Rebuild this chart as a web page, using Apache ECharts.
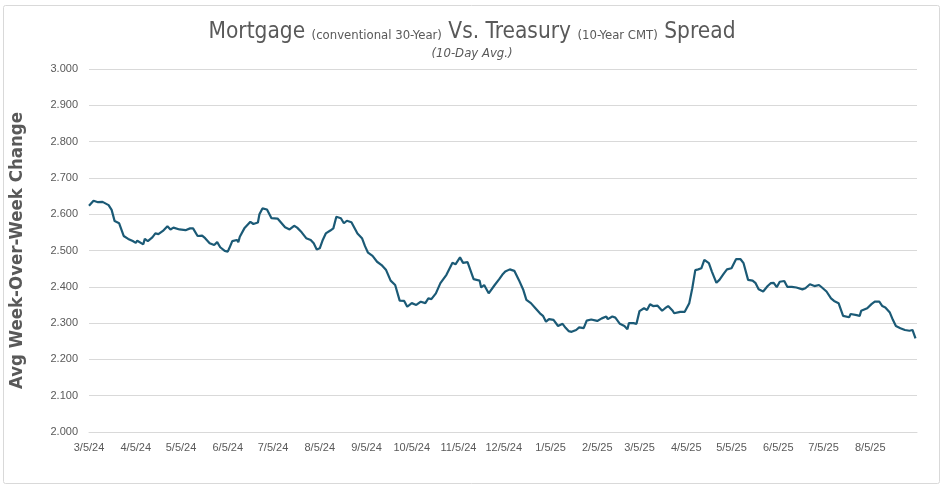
<!DOCTYPE html>
<html>
<head>
<meta charset="utf-8">
<title>Mortgage vs Treasury Spread</title>
<script src="https://cdn.jsdelivr.net/npm/echarts@6/dist/echarts.min.js"></script>
<style>
  html, body { margin: 0; padding: 0; background: #fff; }
  #chart { width: 944px; height: 489px; }
</style>
</head>
<body>
<div id="chart"></div>
<script>
// axis range (Excel date axis, one label per month on the 5th)
const axisStart = '2024-03-05';
const axisEnd = '2025-09-05';

// 10-day average spread
const dates = [
  '2024-03-05','2024-03-06','2024-03-08','2024-03-11','2024-03-14','2024-03-15','2024-03-18','2024-03-20','2024-03-22','2024-03-25','2024-03-28','2024-03-31',
  '2024-04-03','2024-04-05','2024-04-06','2024-04-10','2024-04-11','2024-04-13','2024-04-16','2024-04-18','2024-04-20','2024-04-23','2024-04-26','2024-04-28','2024-04-30',
  '2024-05-04','2024-05-08','2024-05-09','2024-05-11','2024-05-13','2024-05-16','2024-05-19','2024-05-21','2024-05-24','2024-05-27','2024-05-28','2024-05-29','2024-05-31',
  '2024-06-03','2024-06-05','2024-06-06','2024-06-08','2024-06-11','2024-06-12','2024-06-13','2024-06-16','2024-06-20','2024-06-22','2024-06-25','2024-06-26','2024-06-28',
  '2024-07-01','2024-07-04','2024-07-08','2024-07-13','2024-07-16','2024-07-19','2024-07-21','2024-07-24','2024-07-27','2024-07-30',
  '2024-08-01','2024-08-03','2024-08-05','2024-08-07','2024-08-09','2024-08-12','2024-08-14','2024-08-16','2024-08-19','2024-08-21','2024-08-23','2024-08-26','2024-08-30',
  '2024-09-02','2024-09-04','2024-09-06','2024-09-09','2024-09-12','2024-09-15','2024-09-18','2024-09-21','2024-09-24','2024-09-27','2024-09-30',
  '2024-10-02','2024-10-05','2024-10-08','2024-10-11','2024-10-14','2024-10-16','2024-10-18','2024-10-21','2024-10-24','2024-10-28',
  '2024-11-01','2024-11-03','2024-11-06','2024-11-08','2024-11-11','2024-11-15','2024-11-19','2024-11-20','2024-11-22','2024-11-25','2024-11-29',
  '2024-12-02','2024-12-04','2024-12-06','2024-12-09','2024-12-12','2024-12-15','2024-12-18','2024-12-20','2024-12-23','2024-12-26','2024-12-29','2024-12-31',
  '2025-01-02','2025-01-04','2025-01-07','2025-01-10','2025-01-13','2025-01-15','2025-01-17','2025-01-19','2025-01-22','2025-01-24','2025-01-27','2025-01-29',
  '2025-02-01','2025-02-05','2025-02-08','2025-02-11','2025-02-12','2025-02-15','2025-02-17','2025-02-20','2025-02-23','2025-02-25','2025-02-26',
  '2025-03-01','2025-03-03','2025-03-05','2025-03-08','2025-03-10','2025-03-12','2025-03-14','2025-03-17','2025-03-20','2025-03-22','2025-03-24','2025-03-27','2025-03-28',
  '2025-04-01','2025-04-02','2025-04-04','2025-04-07','2025-04-09','2025-04-11','2025-04-13','2025-04-15','2025-04-17','2025-04-20','2025-04-22','2025-04-25','2025-04-27','2025-04-30',
  '2025-05-02','2025-05-05','2025-05-08','2025-05-11','2025-05-13','2025-05-16','2025-05-19','2025-05-21','2025-05-23','2025-05-26','2025-05-29','2025-05-31',
  '2025-06-02','2025-06-04','2025-06-06','2025-06-09','2025-06-11','2025-06-14','2025-06-17','2025-06-18','2025-06-21','2025-06-23','2025-06-26','2025-06-29',
  '2025-07-02','2025-07-04','2025-07-07','2025-07-10','2025-07-12','2025-07-15','2025-07-18','2025-07-22','2025-07-23','2025-07-27','2025-07-29','2025-07-30',
  '2025-08-03','2025-08-06','2025-08-08','2025-08-11','2025-08-13','2025-08-15','2025-08-18','2025-08-20','2025-08-22','2025-08-25','2025-08-28','2025-08-31',
  '2025-09-02','2025-09-04'
];

const spread = [
  2.623, 2.620, 2.637, 2.633, 2.634, 2.630, 2.625, 2.612, 2.581, 2.575, 2.540, 2.532,
  2.526, 2.521, 2.527, 2.517, 2.532, 2.526, 2.536, 2.547, 2.545, 2.554, 2.567, 2.558, 2.563,
  2.558, 2.556, 2.552, 2.561, 2.561, 2.540, 2.541, 2.534, 2.520, 2.515, 2.512, 2.523, 2.509,
  2.499, 2.497, 2.506, 2.526, 2.529, 2.523, 2.538, 2.561, 2.579, 2.573, 2.577, 2.600, 2.616,
  2.613, 2.589, 2.588, 2.564, 2.558, 2.568, 2.563, 2.550, 2.534, 2.529,
  2.520, 2.503, 2.506, 2.529, 2.547, 2.555, 2.561, 2.593, 2.589, 2.575, 2.582, 2.578, 2.547,
  2.534, 2.512, 2.494, 2.485, 2.469, 2.460, 2.446, 2.417, 2.405, 2.362, 2.361,
  2.345, 2.355, 2.350, 2.359, 2.355, 2.368, 2.366, 2.382, 2.410, 2.433,
  2.466, 2.462, 2.481, 2.466, 2.468, 2.421, 2.417, 2.398, 2.405, 2.382, 2.405,
  2.421, 2.433, 2.442, 2.448, 2.444, 2.419, 2.391, 2.364, 2.355, 2.341, 2.327, 2.320,
  2.304, 2.311, 2.309, 2.292, 2.298, 2.287, 2.278, 2.276, 2.281, 2.288, 2.286, 2.307,
  2.310, 2.306, 2.313, 2.318, 2.311, 2.318, 2.315, 2.298, 2.292, 2.283, 2.300,
  2.300, 2.298, 2.333, 2.341, 2.336, 2.352, 2.347, 2.348, 2.334, 2.341, 2.347, 2.334, 2.327,
  2.331, 2.336, 2.331, 2.355, 2.396, 2.446, 2.448, 2.451, 2.474, 2.465, 2.442, 2.411, 2.419, 2.437,
  2.448, 2.451, 2.476, 2.476, 2.465, 2.419, 2.417, 2.410, 2.393, 2.387, 2.402, 2.410,
  2.411, 2.399, 2.414, 2.416, 2.400, 2.400, 2.398, 2.402, 2.393, 2.396, 2.407, 2.402,
  2.405, 2.398, 2.387, 2.368, 2.361, 2.355, 2.320, 2.316, 2.325, 2.322, 2.320, 2.334,
  2.341, 2.353, 2.359, 2.359, 2.347, 2.343, 2.329, 2.309, 2.292, 2.286, 2.281, 2.279,
  2.281, 2.258
];

const yMin = 2.0;
const yMax = 3.0;
const yStep = 0.1;

/**
 * every calendar day between two ISO dates, so the category axis spaces points like a date axis
 */
function dayList(from, to) {
  const out = [];
  let t = Date.parse(from + 'T00:00:00Z');
  const end = Date.parse(to + 'T00:00:00Z');
  while (t <= end) {
    out.push(new Date(t).toISOString().slice(0, 10));
    t += 86400000;
  }
  return out;
}

// '2024-03-05' -> '3/5/24'
function shortDate(iso) {
  const [y, m, d] = iso.split('-');
  return `${+m}/${+d}/${y.slice(2)}`;
}

const days = dayList(axisStart, axisEnd);
const lastIndex = days.length - 1;

const textGray = '#595959';
const gridGray = '#d9d9d9';
const narrow = "'Liberation Sans Narrow', 'DejaVu Sans Condensed', sans-serif";

const chart = echarts.init(document.getElementById('chart'), null, { renderer: 'canvas' });

chart.setOption({
  animation: false,
  backgroundColor: '#fff',
  graphic: [{
    type: 'rect',
    shape: { x: 3.5, y: 5.5, width: 936, height: 478, r: 2 },
    style: { fill: 'none', stroke: gridGray, lineWidth: 1 },
    silent: true
  }],
  title: {
    left: 'center',
    top: 11,
    itemGap: 8,
    text: '{big|Mortgage }{small|(conventional 30-Year)}{big| Vs. Treasury }{small|(10-Year CMT)}{big| Spread}',
    subtext: '(10-Day Avg.)',
    textStyle: {
      fontWeight: 'normal',
      rich: {
        big: { fontFamily: narrow, fontSize: 22.5, fontWeight: 'normal', color: textGray, verticalAlign: 'bottom', lineHeight: 28 },
        small: { fontFamily: narrow, fontSize: 13, fontWeight: 'normal', color: textGray, verticalAlign: 'bottom', lineHeight: 28, padding: [0, 0, 2, 0] }
      }
    },
    subtextStyle: { fontFamily: narrow, fontSize: 13, fontStyle: 'italic', color: textGray }
  },
  grid: { left: 80.5, right: 27, top: 69, bottom: 57, containLabel: false },
  xAxis: {
    type: 'category',
    data: days,
    boundaryGap: false,
    axisLine: { lineStyle: { color: gridGray } },
    axisTick: { show: false },
    axisLabel: {
      color: textGray,
      fontFamily: 'Liberation Sans, Arial, sans-serif',
      fontSize: 11,
      margin: 10,
      interval: (i, v) => v.endsWith('-05') && i < lastIndex,
      formatter: v => shortDate(v)
    },
    splitLine: { show: false }
  },
  yAxis: {
    type: 'value',
    min: yMin,
    max: yMax,
    interval: yStep,
    name: 'Avg Week-Over-Week Change',
    nameLocation: 'middle',
    nameGap: 62,
    nameTextStyle: { fontFamily: narrow, fontSize: 18.5, fontWeight: 'bold', color: textGray },
    axisLine: { show: false },
    axisTick: { show: false },
    axisLabel: {
      color: textGray,
      fontFamily: 'Liberation Sans, Arial, sans-serif',
      fontSize: 11,
      margin: 11,
      formatter: v => v.toFixed(3)
    },
    splitLine: { lineStyle: { color: gridGray, width: 1 } }
  },
  series: [{
    name: 'Spread',
    type: 'line',
    data: dates.map((d, i) => [d, spread[i]]),
    showSymbol: false,
    smooth: false,
    lineStyle: { color: '#1b5a76', width: 2.2 },
    itemStyle: { color: '#1b5a76' }
  }]
});
</script>
</body>
</html>
